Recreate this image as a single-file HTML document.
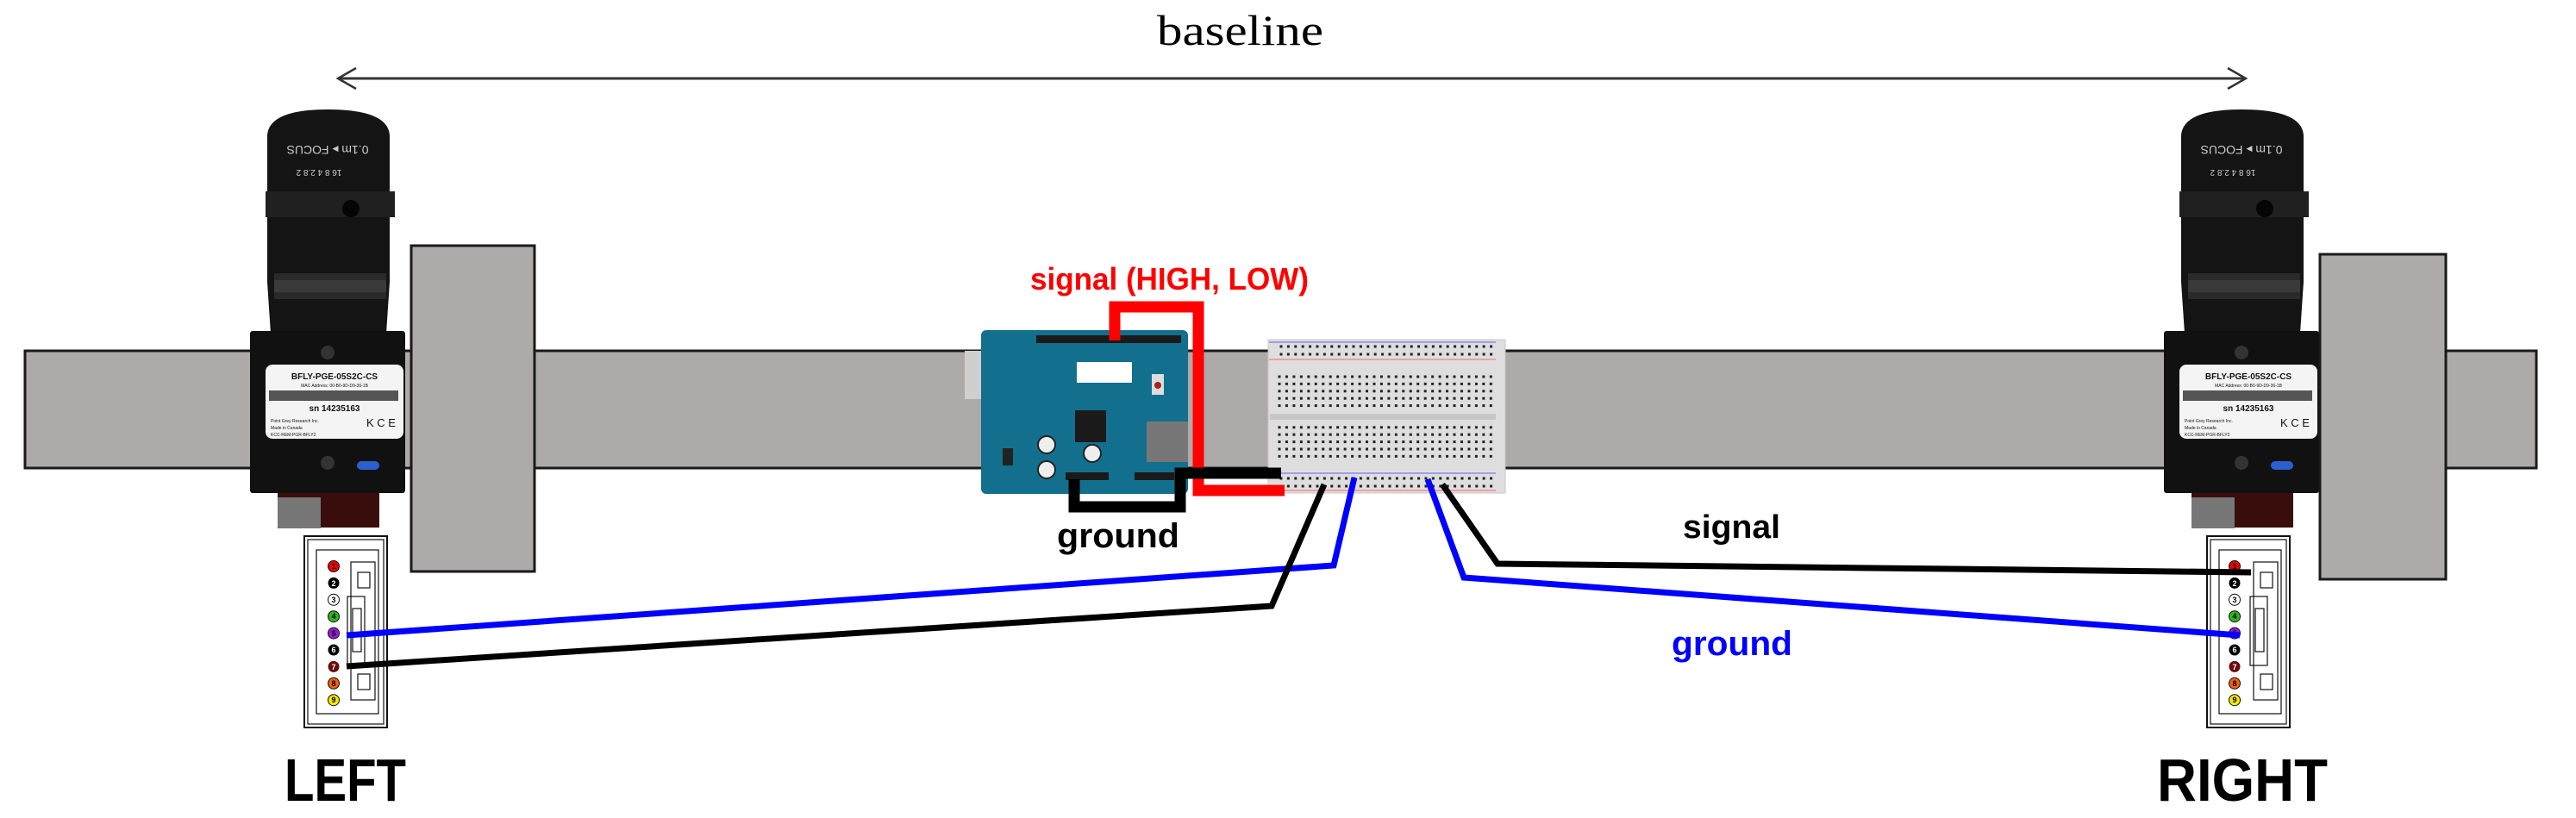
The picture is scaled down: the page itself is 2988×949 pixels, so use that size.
<!DOCTYPE html>
<html><head><meta charset="utf-8"><style>html,body{margin:0;padding:0;background:#fff}svg{display:block}</style></head>
<body>
<svg width="2988" height="949" viewBox="0 0 2988 949" xmlns="http://www.w3.org/2000/svg">
<defs>
<pattern id="holes" x="1480" y="433" width="8.46" height="8.4" patternUnits="userSpaceOnUse"><rect x="2.5" y="2.5" width="3" height="3" fill="#222"/></pattern>
<pattern id="rail" x="1482" y="398" width="8.4" height="9" patternUnits="userSpaceOnUse"><rect x="2.5" y="2.5" width="3" height="3" fill="#222"/></pattern>
<g id="cam">
  <!-- lens -->
  <path d="M10,30 Q12,0 80,0 Q150,0 152,30 L152,200 L148,260 L14,260 L10,200 Z" fill="#141414"/>
  <rect x="8" y="95" width="150" height="30" fill="#202020"/>
  <rect x="18" y="190" width="130" height="30" fill="#2a2a2a"/>
  <rect x="18" y="198" width="130" height="14" fill="#3a3a3a"/>
  <text x="80" y="52" font-family="Liberation Sans,sans-serif" font-size="14" fill="#ccc" text-anchor="middle" transform="rotate(180 80 47)">0.1m ▸ FOCUS</text>
  <text x="70" y="78" font-family="Liberation Sans,sans-serif" font-size="10" fill="#ccc" text-anchor="middle" transform="rotate(180 70 74)">16  8  4 2.8 2</text>
  <circle cx="107" cy="115" r="10" fill="#050505"/>
  <!-- body -->
  <rect x="-10" y="257" width="180" height="188" fill="#111" rx="3"/>
  <rect x="8" y="296" width="160" height="86" fill="#f4f4f4" rx="8"/>
  <text x="88" y="313" font-family="Liberation Sans,sans-serif" font-size="10" font-weight="bold" text-anchor="middle" fill="#111">BFLY-PGE-05S2C-CS</text>
  <text x="88" y="322" font-family="Liberation Sans,sans-serif" font-size="5" text-anchor="middle" fill="#111">MAC Address: 00-B0-9D-D9-36-1B</text>
  <rect x="12" y="326" width="150" height="12" fill="#555"/>
  <text x="88" y="350" font-family="Liberation Sans,sans-serif" font-size="10" font-weight="bold" text-anchor="middle" fill="#111">sn 14235163</text>
  <text x="14" y="363" font-family="Liberation Sans,sans-serif" font-size="5" fill="#111">Point Grey Research Inc.</text>
  <text x="14" y="371" font-family="Liberation Sans,sans-serif" font-size="5" fill="#111">Made in Canada</text>
  <text x="14" y="379" font-family="Liberation Sans,sans-serif" font-size="5" fill="#111">KCC-REM-PGR-BFLY2</text>
  <text x="125" y="368" font-family="Liberation Sans,sans-serif" font-size="13" fill="#111">K C E</text>
  <circle cx="80" cy="282" r="8" fill="#333"/><circle cx="80" cy="410" r="8" fill="#333"/>
  <rect x="114" y="408" width="26" height="10" rx="5" fill="#2a5fd0"/>
  <!-- bottom connector -->
  <rect x="22" y="445" width="118" height="40" fill="#3a0d0d"/>
  <rect x="22" y="450" width="50" height="36" fill="#777"/>
</g>
<g id="pins">
  <rect x="0" y="0" width="96" height="222" fill="#fff" stroke="#111" stroke-width="2"/>
  <rect x="4" y="4" width="88" height="214" fill="none" stroke="#111" stroke-width="1.2"/>
  <rect x="14" y="16" width="72" height="190" fill="none" stroke="#111" stroke-width="1.2"/>
  <rect x="54" y="30" width="28" height="160" fill="none" stroke="#111" stroke-width="1.2"/>
  <rect x="62" y="42" width="14" height="18" fill="none" stroke="#111" stroke-width="1.2"/>
  <rect x="62" y="160" width="14" height="18" fill="none" stroke="#111" stroke-width="1.2"/>
  <rect x="50" y="70" width="20" height="80" fill="none" stroke="#111" stroke-width="1.2"/>
  <rect x="56" y="84" width="10" height="50" fill="none" stroke="#111" stroke-width="1.2"/>
</g>
</defs>

<!-- baseline arrow -->
<line x1="392" y1="91" x2="2605" y2="91" stroke="#333" stroke-width="3"/>
<polyline points="413,79 392,91 413,103" fill="none" stroke="#333" stroke-width="2.5"/>
<polyline points="2584,79 2605,91 2584,103" fill="none" stroke="#333" stroke-width="2.5"/>
<text x="1342" y="52" font-family="Liberation Serif,serif" font-size="50" textLength="193" lengthAdjust="spacingAndGlyphs" fill="#000">baseline</text>

<!-- rail -->
<rect x="29" y="407" width="2913" height="136" fill="#aeaaaa" stroke="#1a1a1a" stroke-width="3"/>

<!-- cameras -->
<use href="#cam" x="300" y="127"/>
<use href="#cam" x="2520" y="127"/>

<!-- plates -->
<rect x="477" y="285" width="143" height="378" fill="#aeaaaa" stroke="#1a1a1a" stroke-width="3"/>
<rect x="2691" y="295" width="146" height="377" fill="#aeaaaa" stroke="#1a1a1a" stroke-width="3"/>

<!-- pin connectors -->
<g transform="translate(353,622)"><use href="#pins"/></g>
<g transform="translate(2560,622)"><use href="#pins"/></g>
<g font-family="Liberation Sans,sans-serif" font-size="9" font-weight="bold" text-anchor="middle">
  <g id="pinset">
  <circle cx="387" cy="657" r="6.5" fill="#e00" stroke="#111"/><text x="387" y="660" fill="#000">1</text>
  <circle cx="387" cy="676.4" r="6.5" fill="#000"/><text x="387" y="680" fill="#fff">2</text>
  <circle cx="387" cy="695.8" r="6.5" fill="#fff" stroke="#111"/><text x="387" y="699" fill="#000">3</text>
  <circle cx="387" cy="715.2" r="6.5" fill="#2db81a" stroke="#111"/><text x="387" y="718" fill="#000">4</text>
  <circle cx="387" cy="734.6" r="6.5" fill="#9a18d8" stroke="#111"/><text x="387" y="738" fill="#000">5</text>
  <circle cx="387" cy="754" r="6.5" fill="#000"/><text x="387" y="757" fill="#fff">6</text>
  <circle cx="387" cy="773.4" r="6.5" fill="#6a0a0a"/><text x="387" y="777" fill="#fff">7</text>
  <circle cx="387" cy="792.8" r="6.5" fill="#f06010" stroke="#111"/><text x="387" y="796" fill="#000">8</text>
  <circle cx="387" cy="812.2" r="6.5" fill="#f5e800" stroke="#111"/><text x="387" y="815" fill="#000">9</text>
  </g>
  <use href="#pinset" x="2205"/>
</g>

<!-- arduino -->
<rect x="1119" y="407" width="77" height="56" fill="#cfcfcf"/>
<rect x="1138" y="383" width="240" height="190" rx="6" fill="#136f8e"/>
<rect x="1202" y="389" width="168" height="9" fill="#1a1a1a"/>
<rect x="1236" y="548" width="50" height="9" fill="#1a1a1a"/>
<rect x="1316" y="548" width="46" height="9" fill="#1a1a1a"/>
<rect x="1249" y="420" width="64" height="24" fill="#fff"/>
<rect x="1247" y="476" width="36" height="37" fill="#1a1a1a"/>
<rect x="1330" y="489" width="48" height="47" fill="#777"/>
<rect x="1336" y="434" width="14" height="24" fill="#ddd"/><circle cx="1343" cy="447" r="4" fill="#a22"/>
<circle cx="1214" cy="516" r="10" fill="#eee" stroke="#222" stroke-width="2"/>
<circle cx="1214" cy="545" r="10" fill="#eee" stroke="#222" stroke-width="2"/>
<circle cx="1267" cy="526" r="10" fill="#eee" stroke="#222" stroke-width="2"/>
<rect x="1163" y="520" width="12" height="20" fill="#222"/>

<!-- breadboard -->
<rect x="1471" y="394" width="275" height="178" fill="#dedede" stroke="#c8c8c8"/>
<rect x="1473" y="480" width="262" height="7" fill="#c9c6c6"/>
<line x1="1472" y1="397" x2="1735" y2="397" stroke="#8a8af0" stroke-width="1.5"/>
<line x1="1472" y1="417" x2="1735" y2="417" stroke="#f0a0a0" stroke-width="2"/>
<line x1="1472" y1="549" x2="1735" y2="549" stroke="#8a8af0" stroke-width="1.5"/>
<line x1="1472" y1="569" x2="1735" y2="569" stroke="#f0a0a0" stroke-width="2"/>
<rect x="1480" y="433" width="254" height="42" fill="url(#holes)"/>
<rect x="1480" y="491" width="254" height="42" fill="url(#holes)"/>
<rect x="1482" y="398" width="250" height="18" fill="url(#rail)"/>
<rect x="1482" y="551" width="250" height="18" fill="url(#rail)"/>

<!-- wires on board -->
<polyline points="1293,395 1293,356 1390,356 1390,569 1490,569" fill="none" stroke="#f00" stroke-width="13"/>
<polyline points="1246,556 1246,588 1369,588 1369,549 1486,549" fill="none" stroke="#000" stroke-width="13"/>

<!-- long wires -->
<polyline points="402,737 1547,656 1571,554" fill="none" stroke="#00f" stroke-width="7"/>
<polyline points="402,773 1475,703 1536,562" fill="none" stroke="#000" stroke-width="7"/>
<polyline points="1656,556 1698,670 2598,737" fill="none" stroke="#00f" stroke-width="7"/>
<polyline points="1673,562 1737,654 2611,664" fill="none" stroke="#000" stroke-width="7"/>

<!-- labels -->
<g font-family="Liberation Sans,sans-serif" font-weight="bold">
<text x="1195" y="336" font-size="36" fill="#f00" textLength="323" lengthAdjust="spacingAndGlyphs">signal (HIGH, LOW)</text>
<text x="1226" y="635" font-size="40" fill="#000" textLength="142" lengthAdjust="spacingAndGlyphs">ground</text>
<text x="1952" y="624" font-size="38" fill="#000" textLength="113" lengthAdjust="spacingAndGlyphs">signal</text>
<text x="1939" y="760" font-size="40" fill="#00f" textLength="140" lengthAdjust="spacingAndGlyphs">ground</text>
<text x="330" y="929" font-size="70" fill="#000" textLength="141" lengthAdjust="spacingAndGlyphs">LEFT</text>
<text x="2502" y="929" font-size="70" fill="#000" textLength="198" lengthAdjust="spacingAndGlyphs">RIGHT</text>
</g>
</svg>
</body></html>
